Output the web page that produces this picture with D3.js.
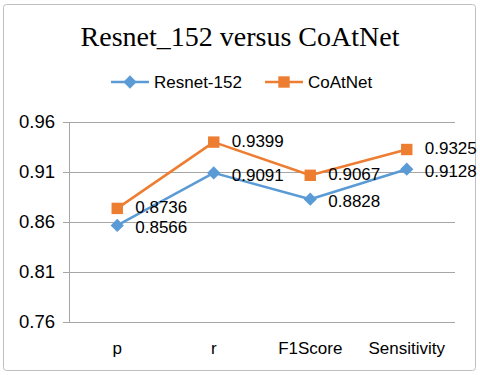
<!DOCTYPE html>
<html>
<head>
<meta charset="utf-8">
<script src="https://cdn.jsdelivr.net/npm/d3@7"></script>
<style>
  body { margin: 0; background: #fff; }
</style>
</head>
<body>
<svg id="chart" width="480" height="375"></svg>
<script>
var categories = ["p", "r", "F1Score", "Sensitivity"];
var resnet = [0.8566, 0.9091, 0.8828, 0.9128];
var coatnet = [0.8736, 0.9399, 0.9067, 0.9325];
var yTicks = [0.76, 0.81, 0.86, 0.91, 0.96];

var svg = d3.select("#chart");
var font = "'Liberation Sans', Arial, sans-serif";

// outer frame
svg.append("rect")
  .attr("x", 3.5).attr("y", 4.5)
  .attr("width", 472).attr("height", 366)
  .attr("rx", 3)
  .style("fill", "#fff")
  .style("stroke", "#bfbfbf")
  .style("stroke-width", 1);

svg.append("text")
  .attr("x", 240).attr("y", 46)
  .attr("text-anchor", "middle")
  .text("Resnet_152 versus CoAtNet")
  .style("font-family", "'Liberation Serif', 'Times New Roman', serif")
  .style("font-size", "28px")
  .style("fill", "#000");

var x = d3.scaleBand().domain(categories).range([69, 455]);
var y = d3.scaleLinear().domain([0.76, 0.96]).range([322, 122]);

// gridlines + y labels
var yAxis = d3.axisLeft(y).tickValues(yTicks).tickSize(-386).tickSizeOuter(0)
  .tickFormat(d3.format(".2f")).tickPadding(14);
var gy = svg.append("g").attr("transform", "translate(69,0)").call(yAxis);
gy.select(".domain").attr("stroke", "#a6a6a6");
gy.selectAll(".tick line").attr("stroke", "#a6a6a6").attr("x1", -6);
gy.selectAll(".tick text")
  .style("font-family", font).style("font-size", "18.5px").style("fill", "#000");

// x labels
var xAxis = d3.axisBottom(x).tickSize(0).tickPadding(20);
var gx = svg.append("g").attr("transform", "translate(0,322)").call(xAxis);
gx.select(".domain").remove();
gx.selectAll(".tick text")
  .style("font-family", font).style("font-size", "17px").style("fill", "#000");

// rotated square for the diamond markers
var diamond = d3.symbol().type(d3.symbolSquare).size(88);
var square = d3.symbol().type(d3.symbolSquare).size(130);

var series = [
  { name: "Resnet-152", values: resnet, color: "#5b9bd5", sym: diamond, rot: 45, legendX: 111, nudge: 1.5 },
  { name: "CoAtNet", values: coatnet, color: "#ed7d31", sym: square, rot: 0, legendX: 265, nudge: -1.5 }
];

var line = d3.line()
  .x(function(d, i) { return x(categories[i]) + x.bandwidth() / 2; })
  .y(function(d) { return y(d); });

series.forEach(function(s) {
  svg.append("path")
    .datum(s.values)
    .attr("d", line)
    .style("fill", "none")
    .style("stroke", s.color)
    .style("stroke-width", 2.5)
    .style("stroke-linejoin", "round");

  svg.selectAll(null)
    .data(s.values)
    .enter().append("path")
    .attr("d", s.sym)
    .attr("transform", function(d, i) {
      return "translate(" + (x(categories[i]) + x.bandwidth() / 2) + "," + y(d) + ") rotate(" + s.rot + ")";
    })
    .style("fill", s.color);

  svg.selectAll(null)
    .data(s.values)
    .enter().append("text")
    .attr("x", function(d, i) { return x(categories[i]) + x.bandwidth() / 2 + 18; })
    .attr("y", function(d) { return y(d) + s.nudge; })
    .attr("dy", "0.36em")
    .text(function(d) { return d3.format(".4f")(d); })
    .style("font-family", font).style("font-size", "17px").style("fill", "#000");

  // legend
  svg.append("line")
    .attr("x1", s.legendX).attr("x2", s.legendX + 38)
    .attr("y1", 82).attr("y2", 82)
    .style("stroke", s.color).style("stroke-width", 2.5);
  svg.append("path")
    .attr("d", s.sym)
    .attr("transform", "translate(" + (s.legendX + 19) + ",82) rotate(" + s.rot + ")")
    .style("fill", s.color);
  svg.append("text")
    .attr("x", s.legendX + 43).attr("y", 82).attr("dy", "0.36em")
    .text(s.name)
    .style("font-family", font).style("font-size", "17px").style("fill", "#000");
});
</script>
</body>
</html>
